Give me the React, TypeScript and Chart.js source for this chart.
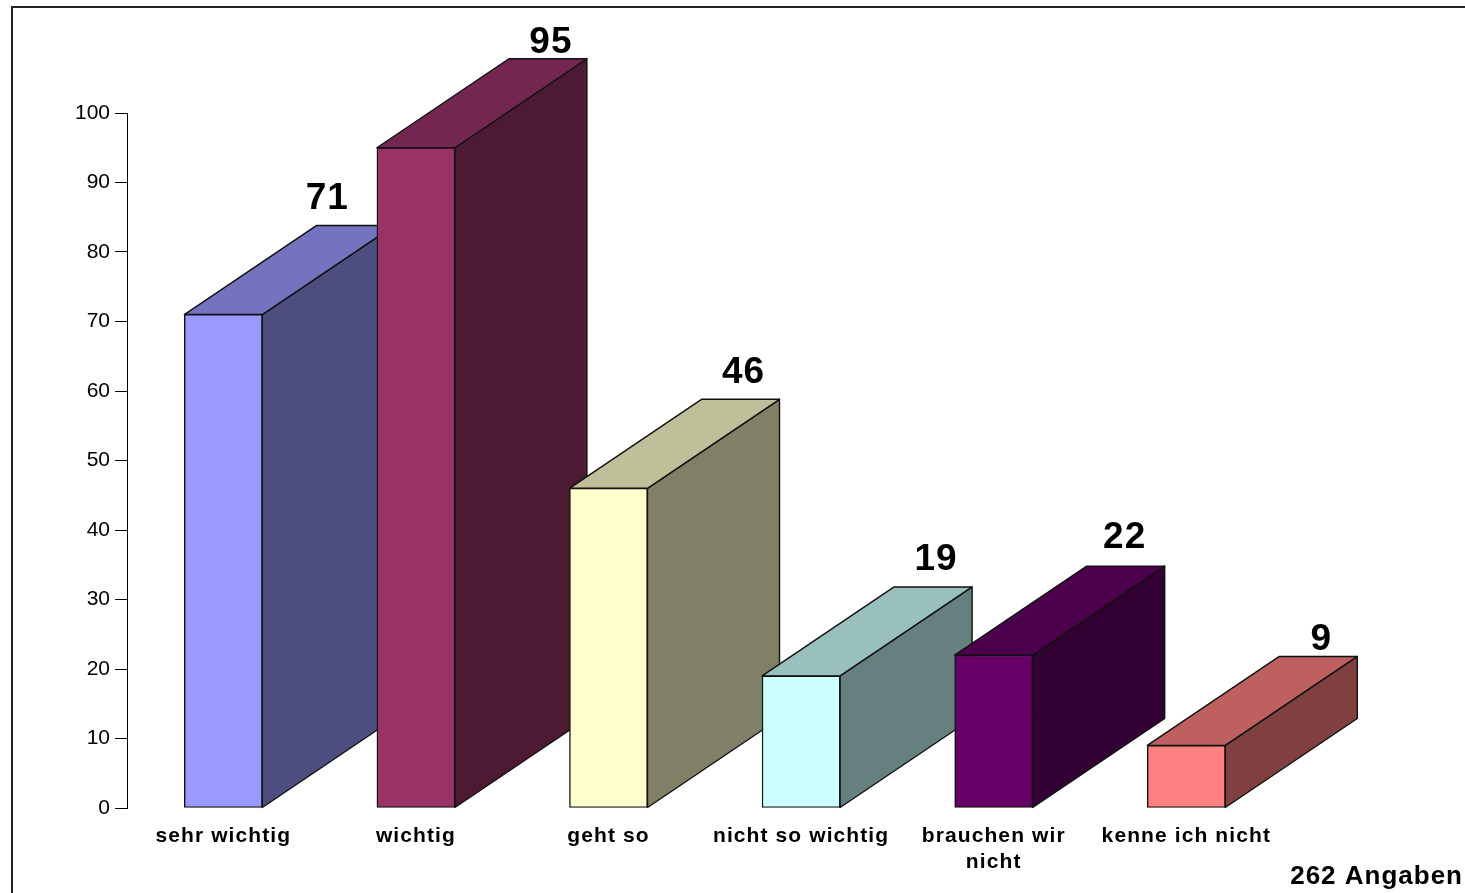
import React, { useEffect, useRef } from "react";
import { Chart, registerables } from "chart.js";

Chart.register(...registerables);

const categories: (string | string[])[] = [
  "sehr wichtig",
  "wichtig",
  "geht so",
  "nicht so wichtig",
  ["brauchen wir", "nicht"],
  "kenne ich nicht",
];
const values = [71, 95, 46, 19, 22, 9];
const frontColors = ["#9999FF", "#993366", "#FFFFCC", "#CCFFFF", "#660066", "#FF8080"];
const topColors = ["#7373BF", "#732650", "#BFBF99", "#99BFBF", "#4D004D", "#BF6060"];
const sideColors = ["#4D4D80", "#4D1A33", "#808066", "#668080", "#330033", "#804040"];
const labelShiftX = [-30, 1, 1, 1, -3, 1];
const labelShiftY = [-2, 9, -1, -2, -3, 9];
const noteText = "262 Angaben";

const FONT = '"Liberation Sans", Arial, sans-serif';
const DX = 132;
const DY = -89;

const faces3d = {
  id: "faces3d",
  beforeDatasetsDraw(chart: any) {
    const { ctx } = chart;
    const els = chart.getDatasetMeta(0).data;
    ctx.save();
    ctx.strokeStyle = "#111";
    ctx.lineWidth = 1.4;
    ctx.lineJoin = "round";
    els.forEach((el: any, i: number) => {
      const half = el.width / 2;
      const l = el.x - half;
      const r = el.x + half;
      const t = el.y;
      const b = el.base;
      ctx.fillStyle = sideColors[i];
      ctx.beginPath();
      ctx.moveTo(r, b);
      ctx.lineTo(r + DX, b + DY);
      ctx.lineTo(r + DX, t + DY);
      ctx.lineTo(r, t);
      ctx.closePath();
      ctx.fill();
      ctx.stroke();
      ctx.fillStyle = topColors[i];
      ctx.beginPath();
      ctx.moveTo(l, t);
      ctx.lineTo(l + DX, t + DY);
      ctx.lineTo(r + DX, t + DY);
      ctx.lineTo(r, t);
      ctx.closePath();
      ctx.fill();
      ctx.stroke();
    });
    ctx.restore();
  },
  afterDatasetsDraw(chart: any) {
    const { ctx } = chart;
    const els = chart.getDatasetMeta(0).data;
    ctx.save();
    ctx.fillStyle = "#000";
    ctx.textAlign = "center";
    ctx.textBaseline = "alphabetic";
    ctx.font = `bold 37px ${FONT}`;
    (ctx as any).letterSpacing = "1px";
    els.forEach((el: any, i: number) => {
      ctx.fillText(String(values[i]), el.x + DX + 2 + labelShiftX[i], el.y + DY - 15 + labelShiftY[i]);
    });
    ctx.textAlign = "right";
    ctx.font = `bold 26px ${FONT}`;
    (ctx as any).letterSpacing = "1px";
    ctx.fillText(noteText, 1463, 884);
    (ctx as any).letterSpacing = "0px";
    ctx.strokeStyle = "#222";
    ctx.lineWidth = 2;
    ctx.beginPath();
    ctx.moveTo(12, 893);
    ctx.lineTo(12, 7);
    ctx.lineTo(1465, 7);
    ctx.stroke();
    ctx.restore();
  },
};

export default function App() {
  const ref = useRef<HTMLCanvasElement | null>(null);
  useEffect(() => {
    document.body.style.margin = "0";
    const chart = new Chart(ref.current as HTMLCanvasElement, {
      type: "bar",
      data: {
        labels: categories,
        datasets: [
          {
            data: values,
            backgroundColor: frontColors,
            borderColor: "#111",
            borderWidth: 1.4,
            borderSkipped: false,
            barThickness: 78,
          },
        ],
      },
      options: {
        responsive: false,
        animation: false,
        layout: { padding: { top: 113, right: 182.4, left: 0, bottom: 0 } },
        plugins: { legend: { display: false }, tooltip: { enabled: false } },
        scales: {
          x: {
            grid: { display: false },
            border: { display: false },
            afterFit(s: any) {
              s.height = 85;
            },
            afterUpdate(s: any) {
              if (s.__spaced) return;
              s.__spaced = true;
              const orig = s.drawLabels;
              s.drawLabels = function (area: any) {
                const c = s.ctx;
                c.save();
                c.letterSpacing = "1.1px";
                orig.call(s, area);
                c.restore();
              };
            },
            ticks: {
              autoSkip: false,
              maxRotation: 0,
              minRotation: 0,
              padding: 7,
              color: "#000",
              font: { family: FONT, size: 21, weight: "bold", lineHeight: 1.24 },
            },
          },
          y: {
            min: 0,
            max: 100,
            afterFit(s: any) {
              s.width = 127;
            },
            grid: { drawOnChartArea: false, color: "#000", tickLength: 12, tickColor: "#000" },
            border: { display: true, color: "#000", width: 1 },
            ticks: {
              stepSize: 10,
              padding: 5,
              color: "#000",
              font: { family: FONT, size: 21 },
            },
          },
        },
      },
      plugins: [faces3d],
    } as any);
    return () => chart.destroy();
  }, []);
  return <canvas ref={ref} width={1465} height={893} style={{ display: "block" }} />;
}
